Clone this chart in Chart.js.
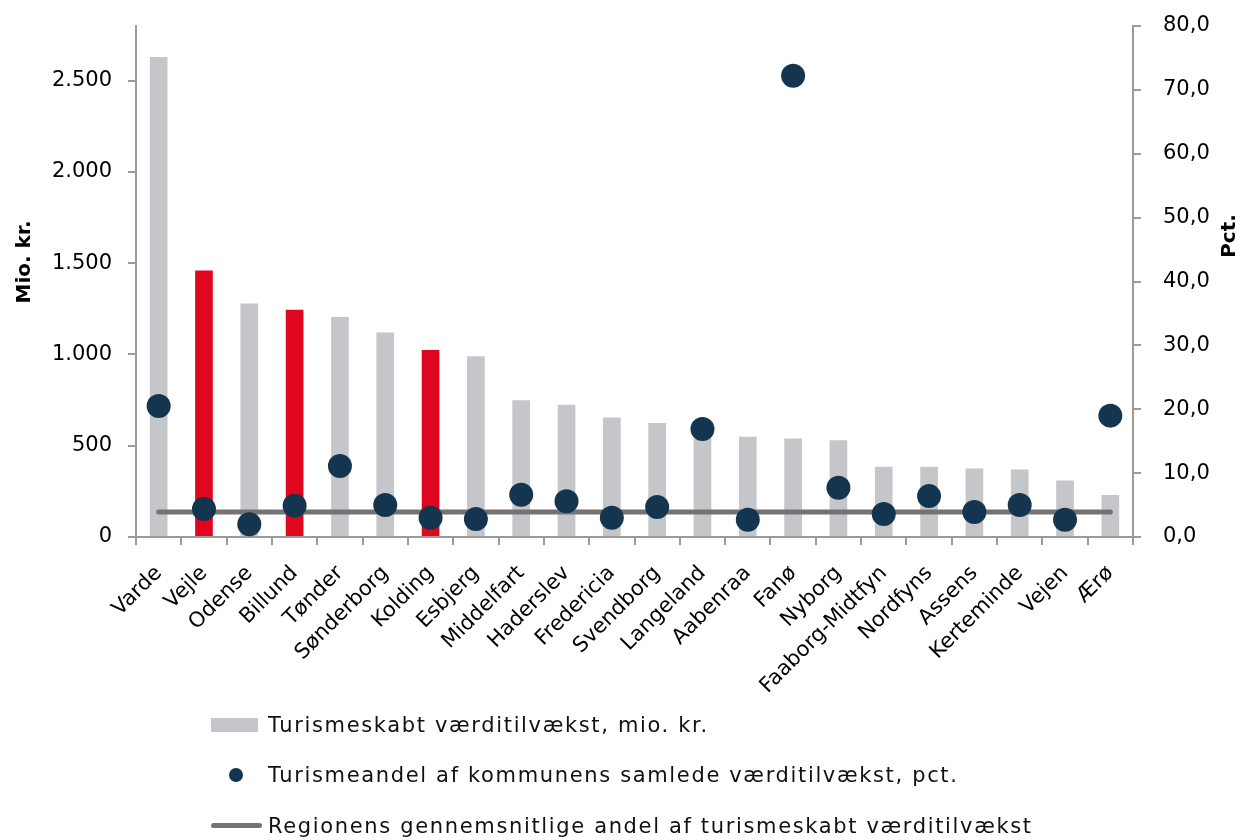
<!DOCTYPE html>
<html>
<head>
<meta charset="utf-8">
<script src="https://cdn.jsdelivr.net/npm/chart.js@4"></script>
<style>
  body { margin: 0; background: #fff; }
  #wrap { position: relative; width: 1246px; height: 840px; }
  #legend { position: absolute; left: 211px; top: 705px; font-family: "DejaVu Sans", sans-serif; font-size: 21px; letter-spacing: 1.65px; color: #111; }
  .item { position: absolute; left: 0; white-space: nowrap; height: 30px; line-height: 30px; }
  .item span.sym { position: absolute; display: block; }
  .item span.txt { position: absolute; left: 57px; }
</style>
</head>
<body>
<div id="wrap">
  <canvas id="myChart" width="1246" height="840"></canvas>
  <div id="legend">
    <div class="item" style="top:5px"><span class="sym" style="left:0;top:8px;width:47px;height:14px;background:#c5c6ca"></span><span class="txt">Turismeskabt værditilvækst, mio. kr.</span></div>
    <div class="item" style="top:55px"><span class="sym" style="left:18px;top:8px;width:14px;height:14px;border-radius:7px;background:#14354f"></span><span class="txt">Turismeandel af kommunens samlede værditilvækst, pct.</span></div>
    <div class="item" style="top:106px"><span class="sym" style="left:0;top:12px;width:51px;height:5px;border-radius:3px;background:#767272"></span><span class="txt">Regionens gennemsnitlige andel af turismeskabt værditilvækst</span></div>
  </div>
</div>
<script>
// Municipalities
const categories = ["Varde", "Vejle", "Odense", "Billund", "Tønder", "Sønderborg", "Kolding", "Esbjerg",
  "Middelfart", "Haderslev", "Fredericia", "Svendborg", "Langeland", "Aabenraa", "Fanø", "Nyborg",
  "Faaborg-Midtfyn", "Nordfyns", "Assens", "Kerteminde", "Vejen", "Ærø"];

// Tourism created value added, mio. kr.
const valueAdded = [2630, 1460, 1280, 1245, 1205, 1120, 1025, 990, 750, 725, 655, 625, 590, 550, 540, 530,
  385, 385, 375, 370, 310, 230];

// Tourism share of municipality value added, pct.
const tourismShare = [20.5, 4.4, 2.0, 4.9, 11.1, 5.0, 3.0, 2.8, 6.6, 5.6, 3.0, 4.7, 16.9, 2.7, 72.2, 7.7,
  3.6, 6.4, 3.9, 5.0, 2.7, 19.0];

// Regional average share, pct.
const regionAverage = 3.9;

// Left axis tick labels (mio. kr.)
const leftTicks = [0, 500, 1000, 1500, 2000, 2500];

// Highlighted municipalities (red bars)
const highlighted = ["Vejle", "Billund", "Kolding"];

const fontFamily = "'DejaVu Sans', sans-serif";
const axisColor = "#9a9a9a";

const barColors = categories.map(c => highlighted.includes(c) ? "#e1061f" : "#c5c6ca");

// Draws both axis titles, reading bottom to top
const axisTitles = {
  id: "axisTitles",
  afterDraw(chart) {
    const ctx = chart.ctx;
    const titles = [["Mio. kr.", 25, 262], ["Pct.", 1230, 236]];
    ctx.save();
    ctx.font = "bold 20px " + fontFamily;
    ctx.fillStyle = "#000";
    ctx.textAlign = "center";
    ctx.textBaseline = "middle";
    for (const [text, x, y] of titles) {
      ctx.save();
      ctx.translate(x, y);
      ctx.rotate(-Math.PI / 2);
      ctx.fillText(text, 0, 0);
      ctx.restore();
    }
    ctx.restore();
  }
};

const ctx = document.getElementById("myChart").getContext("2d");
const chart = new Chart(ctx, {
  type: "bar",
  data: {
    labels: categories,
    datasets: [
      {
        type: "line",
        label: "Turismeandel af kommunens samlede værditilvækst, pct.",
        data: tourismShare,
        yAxisID: "y1",
        showLine: false,
        pointRadius: 12,
        pointBackgroundColor: "#14354f",
        pointBorderWidth: 0,
        order: 0,
      },
      {
        type: "line",
        label: "Regionens gennemsnitlige andel af turismeskabt værditilvækst",
        data: categories.map(() => regionAverage),
        yAxisID: "y1",
        borderColor: "#767272",
        borderWidth: 5,
        borderCapStyle: "round",
        pointRadius: 0,
        order: 1,
      },
      {
        label: "Turismeskabt værditilvækst, mio. kr.",
        data: valueAdded,
        yAxisID: "y",
        backgroundColor: barColors,
        barPercentage: 0.39,
        categoryPercentage: 1,
        order: 2,
      },
    ],
  },
  options: {
    responsive: false,
    animation: false,
    layout: { padding: { top: 26, left: 0, right: 0, bottom: 0 } },
    plugins: {
      legend: { display: false },
      tooltip: { enabled: false },
    },
    scales: {
      x: {
        offset: true,
        grid: { offset: true, drawOnChartArea: false, drawTicks: true, tickLength: 8, color: axisColor, lineWidth: 2 },
        border: { color: axisColor, width: 2 },
        ticks: { minRotation: 45, maxRotation: 45, autoSkip: false, padding: 16, color: "#000", font: { family: fontFamily, size: 21 } },
        afterFit(scale) { scale.height = 303; scale.paddingLeft = 0; scale.paddingRight = 0; },
      },
      y: {
        position: "left",
        min: 0,
        max: 2800,
        grid: { drawOnChartArea: false, drawTicks: true, tickLength: 8, color: axisColor, lineWidth: 2 },
        border: { color: axisColor, width: 2 },
        afterBuildTicks(scale) { scale.ticks = leftTicks.map(v => ({ value: v })); },
        ticks: {
          padding: 16,
          color: "#000",
          font: { family: fontFamily, size: 21 },
          callback: v => v.toLocaleString("da-DK"),
        },
        afterFit(scale) { scale.width = 136; scale.paddingTop = 0; scale.paddingBottom = 0; },
      },
      y1: {
        position: "right",
        min: 0,
        max: 80,
        grid: { drawOnChartArea: false, drawTicks: true, tickLength: 8, color: axisColor, lineWidth: 2 },
        border: { color: axisColor, width: 2 },
        ticks: {
          stepSize: 10,
          padding: 22,
          color: "#000",
          font: { family: fontFamily, size: 21 },
          callback: v => v.toFixed(1).replace(".", ","),
        },
        afterFit(scale) { scale.width = 113; scale.paddingTop = 0; scale.paddingBottom = 0; },
      },
    },
  },
  plugins: [axisTitles],
});
</script>
</body>
</html>
